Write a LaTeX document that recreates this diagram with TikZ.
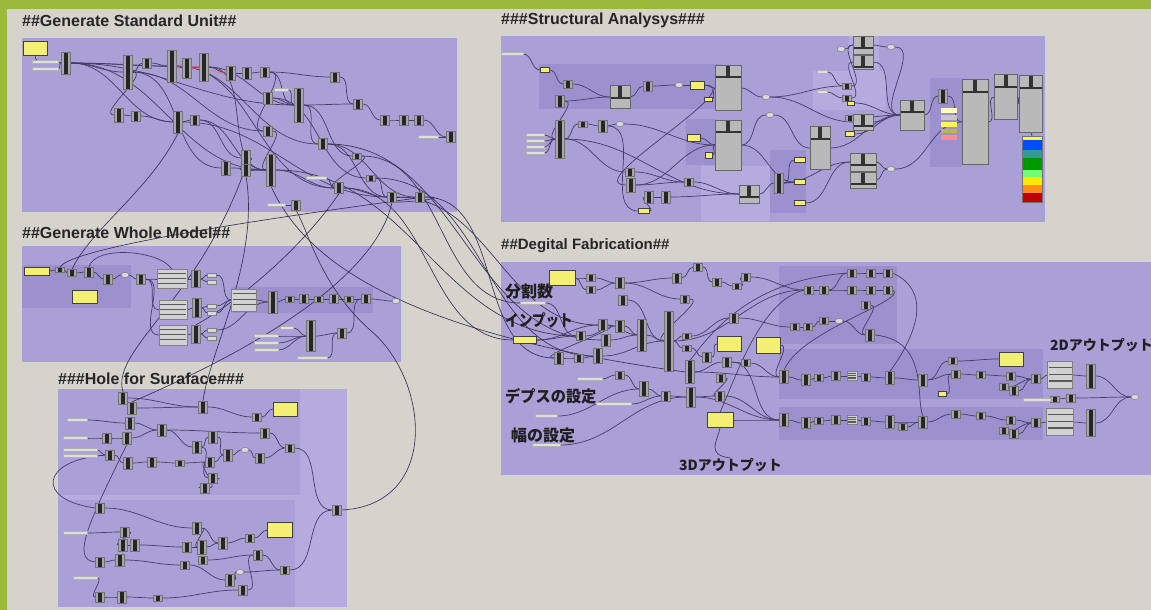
\documentclass[tikz,border=0pt]{standalone}
\usepackage{fontspec}
\setmainfont{Liberation Sans}
\newfontfamily\jpf{Noto Sans CJK JP}
\usetikzlibrary{shapes.geometric,calc}
\definecolor{bgc}{HTML}{D6D3CC}
\definecolor{grn}{HTML}{9CBA3C}
\definecolor{pur}{HTML}{AB9FD8}
\definecolor{purd}{HTML}{9D90CE}
\definecolor{purl}{HTML}{B6ABDF}
\definecolor{wirec}{HTML}{463C68}
\definecolor{yelc}{HTML}{F3EF72}
\definecolor{compg}{HTML}{A9A6AE}
\pgfdeclarelayer{bgl}\pgfdeclarelayer{wl}\pgfsetlayers{bgl,wl,main}
\begin{document}
\begin{tikzpicture}[x=1pt,y=-1pt,
 comp/.style={rectangle,draw=black!55,line width=0.3pt,fill=compg,minimum width=9pt,inner sep=0pt,
   path picture={\fill[black!85] ([xshift=-1.8pt]path picture bounding box.south) rectangle ([xshift=1.8pt]path picture bounding box.north);}},
 bigc/.style={rectangle,draw=black!60,line width=0.4pt,fill=gray!55,inner sep=0pt,
   path picture={\fill[black!80] ([xshift=-1.8pt]path picture bounding box.north) rectangle ([xshift=1.8pt,yshift=-11pt]path picture bounding box.north);
   \fill[black!80] ([yshift=-11pt]path picture bounding box.north west) rectangle ([yshift=-13pt]path picture bounding box.north east);}},
 lst/.style={rectangle,draw=black!50,line width=0.3pt,fill=gray!35,inner sep=0pt,
   path picture={\foreach \k in {0.22,0.47,0.72}{\draw[black!65,line width=1.2pt] ($(path picture bounding box.north west)!\k!(path picture bounding box.south west)+(1,0)$) -- ($(path picture bounding box.north east)!\k!(path picture bounding box.south east)+(-1,0)$);}}},
 yel/.style={rectangle,draw=black!75,line width=0.6pt,fill=yelc,inner sep=0pt},
 strip/.style={rectangle,draw=gray!60,line width=0.3pt,fill=gray!25,minimum height=3pt,inner sep=0pt},
 tinyb/.style={rectangle,draw=black!50,line width=0.3pt,fill=gray!30,minimum width=9pt,minimum height=4pt,inner sep=0pt},
 ov/.style={ellipse,draw=black!60,line width=0.3pt,fill=gray!30,minimum width=8pt,minimum height=5pt,inner sep=0pt},
 w/.style={draw=wirec,line width=0.7pt},
 cw/.style={draw=wirec!80!black,line width=0.65pt},
 ttl/.style={anchor=west,inner sep=0pt,text=black!85,font=\bfseries\fontsize{16}{18}\selectfont},
 jl/.style={anchor=west,inner sep=0pt,text=black!88,font=\jpf\bfseries\fontsize{16}{18}\selectfont}]
\useasboundingbox (0,0) rectangle (1151,610);
\begin{pgfonlayer}{bgl}
\fill[bgc] (0,0) rectangle (1151,610);
\fill[grn] (0,0) rectangle (1151,9);
\fill[grn] (0,0) rectangle (7,610);
% groups
\fill[pur] (22,38) rectangle (457,212);
\fill[pur] (501,36) rectangle (1045,222);
\fill[pur] (22,246) rectangle (401,362);
\fill[purl] (58,389) rectangle (347,607);
\fill[pur] (501,262) rectangle (1151,475);
% sub groups
\fill[purd] (539,64) rectangle (723,109);
\fill[purd] (686,119) rectangle (716,165);
\fill[purl] (701,166) rectangle (770,221);
\fill[purd] (770,150) rectangle (806,213);
\fill[purl] (813,71) rectangle (886,110);
\fill[purl] (849,36) rectangle (879,71);
\fill[purd] (930,78) rectangle (962,167);
\fill[purd] (22,265) rectangle (131,308);
\fill[purd] (231,287) rectangle (373,313);
\fill[pur] (58,389) rectangle (300,495);
\fill[pur] (58,500) rectangle (295,607);
\fill[purd] (779,266) rectangle (897,344);
\fill[purd] (779,349) rectangle (1043,399);
\fill[purd] (779,407) rectangle (1043,440);
\end{pgfonlayer}
% titles
\node[ttl] (t1) at (22,21) {\#\#Generate Standard Unit\#\#};
\node[ttl] (t2) at (501,20) {\#\#\#Structural Analysys\#\#\#};
\node[ttl] (t3) at (22,233) {\#\#Generate Whole Model\#\#};
\node[ttl] (t4) at (58,379) {\#\#\#Hole for Suraface\#\#\#};
\node[ttl,font=\bfseries\fontsize{15}{17}\selectfont] (t5) at (501,246) {\#\#Degital Fabrication\#\#};
% Japanese labels
\node[jl] (l1) at (505,291) {分割数};
\node[jl] (l2) at (505,320) {\scalebox{0.85}[1]{インプット}};
\node[jl] (l3) at (505,396) {\scalebox{0.95}[1]{デプスの設定}};
\node[jl] (l4) at (511,435) {幅の設定};
\node[jl,font=\jpf\bfseries\fontsize{14}{16}\selectfont] (l5) at (679,465) {3Dアウトプット};
\node[jl,font=\jpf\bfseries\fontsize{14}{16}\selectfont] (l6) at (1050,345) {2Dアウトプット};
% ---------- Generate Standard Unit
\node[yel,minimum width=24pt,minimum height=14pt] (uy) at (35,48) {};
\foreach \n/\x/\y/\ww in {us1/45/62/26,us2/45/69/26,us3/428/137/20,us4/276/205/18,us5/316/178/20,us6/281/90/14}
  \node[strip,minimum width=\ww pt] (\n) at (\x,\y) {};
\foreach \n/\x/\y/\h in {u1/66/63/22,u2/128/72/34,u3/147/63/10,u4/172/66/32,u5/187/68/20,u6/204/67/28,u7/231/73/14,u8/247/73/12,u9/265/72/10,u10/335/77/10,u11/299/105/34,u12/268/98/12,u13/358/104/10,u14/385/120/10,u15/404/120/10,u16/419/120/10,u17/451/137/11,u18/119/115/14,u19/136/116/10,u20/178/122/22,u21/195/120/10,u22/268/131/10,u23/323/144/11,u24/246/158/16,u25/226/168/14,u26/246/170/12,u27/271/170/32,u28/357/156/6,u29/339/188/11,u30/371/178/6,u31/392/197/10,u32/420/197/10,u33/296/205/10}
  \node[comp,minimum height=\h pt] (\n) at (\x,\y) {};
% ---------- Structural Analysys
\foreach \n/\x/\y/\h in {a1/568/84/8,a2/560/101/12,a3/648/86/10,a4/560/139/38,a5/583/124/6,a6/603/126/12,a7/630/172/8,a8/631/185/14,a9/649/197/12,a10/666/197/12,a11/689/182/8,a12/779/183/20,a13/847/86/6,a14/847/98/6,a15/850/118/6,a16/943/96/14}
  \node[comp,minimum height=\h pt] (\n) at (\x,\y) {};
\foreach \n/\x/\y/\ww/\hh in {b1/620/97/20/23,b2/728/88/26/45,b3/728/145/26/50,b4/749/194/20/18,b5/820/148/20/43,b6/863/162/26/18,b7/863/180/26/16,b8/863/122/20/16,b9/863/45/20/18,b10/863/62/20/14,b11/912/115/24/30,b12/975/122/26/85,b13/1006/97/23/45,b14/1031/104/23/57}
  \node[bigc,minimum width=\ww pt,minimum height=\hh pt] (\n) at (\x,\y) {};
\foreach \n/\x/\y/\ww/\hh in {ay1/545/70/9/5,ay2/697/85/14/8,ay3/708/99/8/4,ay4/694/138/13/7,ay5/709/155/7/6,ay6/644/211/11/5,ay7/800/160/11/5,ay8/800/182/11/5,ay9/800/203/11/5,ay10/851/103/7/4,ay11/850/134/9/5}
  \node[yel,line width=0.5pt,minimum width=\ww pt,minimum height=\hh pt] (\n) at (\x,\y) {};
\foreach \n/\x/\y in {ao1/679/85,ao2/620/124,ao3/891/47,ao4/891/169,ao5/766/97,ao6/770/115,ao7/841/49}
  \node[ov] (\n) at (\x,\y) {};
\foreach \n/\x/\y/\ww in {as1/512/54/22,as2/535/135/18,as3/535/141/18,as4/535/147/18,as5/535/153/18,as6/822/72/10,as7/822/92/10}
  \node[strip,minimum width=\ww pt] (\n) at (\x,\y) {};
% colour chips and legend
\fill[yellow!25] (941,108) rectangle (957,113);
\fill[gray!45] (941,115) rectangle (957,120);
\fill[yellow!65] (941,122) rectangle (957,127);
\fill[olive!60] (941,129) rectangle (957,133);
\fill[red!45] (941,135) rectangle (957,140);
\fill[yellow!80] (1022,136) rectangle (1042,140);
\fill[blue!70!cyan] (1022,140) rectangle (1042,150);
\fill[teal!80] (1022,150) rectangle (1042,158);
\fill[green!60!black] (1022,158) rectangle (1042,170);
\fill[green!55] (1022,170) rectangle (1042,177);
\fill[yellow!90!orange] (1022,177) rectangle (1042,185);
\fill[orange!90] (1022,185) rectangle (1042,193);
\fill[red!75!black] (1022,193) rectangle (1042,202);
\node[draw=black!55,line width=0.4pt,minimum width=20pt,minimum height=66pt,inner sep=0pt] (leg) at (1032,169) {};
% ---------- Generate Whole Model
\node[yel,minimum width=25pt,minimum height=8pt] (wy1) at (37,271) {};
\node[yel,minimum width=25pt,minimum height=13pt] (wy2) at (85,297) {};
\foreach \n/\x/\y/\h in {w1/60/270/5,w2/72/273/7,w3/89/272/10,w4/108/279/10,w6/141/279/10,wc1/196/279/17,wc2/197/308/19,wc3/196/334/18,wc4/273/302/22,w7/290/299/6,w8/304/299/9,w9/319/299/6,w10/334/299/9,w11/349/299/6,w12/366/299/9,wc5/311/336/31,wc6/342/333/10}
  \node[comp,minimum height=\h pt] (\n) at (\x,\y) {};
\foreach \n/\x/\y in {w5/125/275,w13/396/301}
  \node[ov] (\n) at (\x,\y) {};
\foreach \n/\x/\y/\ww/\hh in {wl1/172/279/30/19,wl2/173/310/28/19,wl3/173/335/28/20,wl4/244/300/25/22}
  \node[lst,minimum width=\ww pt,minimum height=\hh pt] (\n) at (\x,\y) {};
\foreach \n/\x/\y in {wo1/212/275,wo2/212/282,wo3/212/306,wo4/212/313,wo5/212/330,wo6/212/338}
  \node[tinyb] (\n) at (\x,\y) {};
\foreach \n/\x/\y/\ww in {ws1/266/336/24,ws2/266/343/24,ws3/266/350/24,ws4/287/328/13,ws5/312/358/30}
  \node[strip,minimum width=\ww pt] (\n) at (\x,\y) {};
% ---------- Hole for Suraface
\node[yel,minimum width=24pt,minimum height=14pt] (hy1) at (285,409) {};
\node[yel,minimum width=25pt,minimum height=15pt] (hy2) at (280,530) {};
\foreach \n/\x/\y/\h in {h1/123/398/12,h2/132/408/12,h3/130/423/12,h4/127/438/12,h5/107/438/10,h6/110/455/10,h7/128/463/12,h8/152/462/10,h9/162/430/12,h10/180/463/6,h11/203/407/12,h12/197/447/12,h13/213/437/12,h14/210/462/10,h15/228/455/12,h16/213/478/10,h17/205/488/10,h18/257/417/8,h19/265/433/10,h20/260/458/10,h21/290/448/8,k1/100/508/10,k2/125/532/10,k3/123/545/12,k4/135/545/12,k5/100/562/10,k6/120/560/12,k7/197/528/12,k8/187/547/10,k9/202/547/14,k10/223/543/12,k11/203/560/8,k12/185/565/8,k13/250/538/8,k14/258/555/10,k15/285/570/8,k16/230/580/12,k17/243/590/10,k18/100/597/10,k19/122/597/12,k20/158/598/6,hout/337/510/10}
  \node[comp,minimum height=\h pt] (\n) at (\x,\y) {};
\foreach \n/\x/\y in {h22/245/450,k21/240/572}
  \node[ov] (\n) at (\x,\y) {};
\foreach \n/\x/\y/\ww in {hs1/77/420/20,hs2/75/438/24,hs3/80/450/34,hs4/80/456/34,ks1/75/533/24,ks2/85/578/24}
  \node[strip,minimum width=\ww pt] (\n) at (\x,\y) {};
% ---------- Degital Fabrication
\foreach \n/\x/\y/\ww/\hh in {dy1/562/278/26/15,dy2/525/340/23/7,dy3/729/344/24/15,dy4/768/345/24/16,dy5/720/420/26/15,dy6/1011/359/24/14,dy7/942/394/8/5}
  \node[yel,minimum width=\ww pt,minimum height=\hh pt] (\n) at (\x,\y) {};
\foreach \n/\x/\y/\h in {d1/591/278/7,d2/591/290/7,d3/620/283/11,d4/623/300/10,d5/677/278/10,d6/698/267/8,d7/717/282/8,d8/737/286/6,d9/746/277/8,d10/685/299/8,d11/734/318/10,d12/581/336/9,d13/603/325/11,d14/606/340/12,d15/620/326/12,d16/642/335/32,d17/669/341/60,d18/687/336/6,d19/687/348/6,d20/559/358/12,d21/579/358/8,d22/598/356/15,d23/620/375/8,d24/644/389/15,d25/666/396/10,d26/690/372/23,d27/691/397/20,d28/707/357/10,d29/727/362/10,d30/721/378/8,d31/746/363/7,d32/720/396/10,d34/809/290/8,d35/824/290/8,d36/852/273/8,d37/871/273/8,d38/888/273/8,d39/852/290/8,d40/871/290/8,d41/888/290/8,d42/866/305/8,d43/795/327/7,d44/808/327/7,d45/824/321/7,d47/870/335/12,r1/784/377/13,r2/806/380/11,r3/819/378/7,r4/836/376/9,r6/866/377/8,r7/890/378/13,r8/923/380/12,r9/956/374/8,r10/981/375/7,r11/1011/376/8,r12/1036/379/9,rr1/953/361/7,rr2/1004/387/7,rr3/1014/391/9,q1/784/420/13,q2/806/423/11,q3/819/421/7,q4/836/420/9,q6/866/421/8,q7/890/422/13,q8/903/427/7,q9/923/422/12,q10/956/414/8,q11/981/416/7,q12/1011/420/8,q13/1004/431/7,q14/1014/434/9,q15/1036/423/9,L1c/1091/376/24,L2c/1091/423/27,k1d/1055/399/6,k2d/1071/398/8}
  \node[comp,minimum height=\h pt] (\n) at (\x,\y) {};
\foreach \n/\x/\y/\ww/\hh in {L1/1060/375/25/27,L2/1060/422/27/27,r5/852/376/10/9,q5/852/420/10/9}
  \node[lst,minimum width=\ww pt,minimum height=\hh pt] (\n) at (\x,\y) {};
\foreach \n/\x/\y in {d46/839/321,dout/1135/397}
  \node[ov] (\n) at (\x,\y) {};
\foreach \n/\x/\y/\ww in {ds1/533/303/25,ds2/590/379/25,ds3/546/416/22,ds4/546/445/28,ds5/614/404/35,ds6/1037/400/27}
  \node[strip,minimum width=\ww pt] (\n) at (\x,\y) {};
% ================= wires
\begin{pgfonlayer}{wl}
% GSU
\foreach \fa/\fb in {us1/u1,us2/u1,u1/u2,u1/u4,u1/u6,u1/u11,u1/u20,u1/u27,u2/u3,u3/u4,u4/u5,u5/u6,u6/u7,u7/u8,u8/u9,u9/u10,u10/u13,u13/u14,u14/u15,u15/u16,u16/u17,us3/u17,u18/u19,u19/u20,u20/u21,u21/u24,u21/u27,u12/u11,u11/u13,u11/u23,u22/u27,u24/u26,u25/u27,u26/u27,u27/u29,u29/u31,u31/u32,u30/u31,u28/u29,u23/u31,u6/u11,u9/u11,u2/u22,u4/u29,u20/u31,us4/u33,us5/u29,u2/u18,u2/u25,u4/u23,u6/u27,u11/u28,u9/u22,us6/u11,u12/u30,u23/u32}
  \draw[w] (\fa.east) to[out=0,in=180] (\fb.west);
\draw[red!55,line width=0.6pt] (u4.east) to[out=0,in=180] (u6.west);
\draw[red!55,line width=0.6pt] (u5.east) to[out=0,in=180] (u7.west);
\draw[w] (uy.south) to[out=-90,in=180] (u1.west);
\draw[w] (u32.east) to[out=0,in=0,looseness=2] (u31.south);
% Structural
\foreach \fa/\fb in {as1/ay1,ay1/a1,a1/b1,a2/b1,b1/a3,a3/ao1,ao1/ay2,ay2/b2,ay3/b2,as2/a4,as3/a4,as4/a4,as5/a4,a4/a5,a5/a6,a6/ao2,ao2/b3,ay4/b3,ay5/b3,b2/ao5,ao5/a13,ao5/b8,b3/ao6,ao6/b5,a4/a7,a7/a11,a8/a11,a11/b4,a9/a10,a10/b4,ay6/a9,b4/a12,a12/ay7,a12/ay8,ay9/b6,a12/b6,b5/b11,b6/ao4,b7/ao4,ao4/b12,b8/b11,as6/a13,as7/a14,a13/b9,a14/b10,b9/ao3,ao3/b11,b11/a16,a16/b12,b12/b13,b13/b14,a15/b11,ay10/b11,ay11/b11,ay2/a8,a4/b4,a6/ay6,a8/b3,a2/a4,b3/ay8,b10/b11,ao7/b9}
  \draw[w] (\fa.east) to[out=0,in=180] (\fb.west);
\draw[w] (b14.south) to[out=-90,in=90] (leg.north);
% Whole Model
\foreach \fa/\fb in {wy1/w1,w1/w2,w2/w3,w3/w4,w4/w5,w5/w6,w6/wl1,wl1/wc1,wl2/wc2,wl3/wc3,wc1/wo1,wc1/wo2,wc2/wo3,wc2/wo4,wc3/wo5,wc3/wo6,wo3/wl4,wo4/wl4,wo1/wl4,wl4/wc4,wc4/w7,w7/w8,w8/w9,w9/w10,w10/w11,w11/w12,w12/w13,ws1/wc5,ws2/wc5,ws3/wc5,ws4/wc5,ws5/wc6,wc5/wc6,w6/wl2,w6/wl3,wo5/wc4,wc6/w12}
  \draw[w] (\fa.east) to[out=0,in=180] (\fb.west);
\draw[w] (w3.north) .. controls (95,245) and (160,250) .. (wl1.north);
% Hole
\foreach \fa/\fb in {hs1/h3,hs2/h5,hs3/h6,hs4/h6,h5/h4,h6/h7,h7/h8,h8/h10,h10/h14,h14/h15,h15/h22,h22/h20,h4/h9,h9/h12,h12/h13,h3/h9,h1/h11,h11/h18,h18/hy1,h19/h21,h20/h21,h13/h15,h16/h17,h2/h11,h17/h14,h21/hout,k15/hout,ks1/k2,k2/k3,k3/k4,k4/k8,k8/k9,k9/k10,k10/k13,k13/hy2,k14/k15,k11/k14,k1/k7,k7/k10,k5/k6,k6/k12,k12/k16,k16/k21,k21/k15,k18/k19,k19/k20,k20/k17,k17/k14,ks2/k18,h9/h19,h12/h16,k7/k9}
  \draw[w] (\fa.east) to[out=0,in=180] (\fb.west);
\draw[w] (h6.west) .. controls (40,460) and (35,500) .. (k1.west);
\draw[w] (h4.south) .. controls (90,520) and (70,560) .. (k5.west);
% Degital Fabrication
\foreach \fa/\fb in {dy1/d1,dy1/d2,d1/d3,d2/d3,ds1/d12,dy2/d12,dy2/d13,d12/d15,d13/d16,d14/d16,d15/d16,d16/d17,d17/d18,d17/d19,d3/d5,d4/d17,d5/d6,d6/d7,d7/d8,d8/d9,d10/d17,d20/d21,d21/d22,d22/d17,ds2/d23,d23/d24,d24/d25,d25/d27,d26/d29,d27/d32,d28/dy3,d29/d31,d30/d32,ds3/d24,ds4/d27,ds5/d25,d19/d28,d18/d11,d11/d43,d17/d34,d34/d35,d35/d36,d36/d37,d37/d38,d39/d40,d40/d41,d35/d39,d43/d44,d44/d45,d45/d46,d46/d47,d42/d47,d26/r1,d32/q1,dy5/q1,d31/r1,d29/q1,r1/r2,r2/r3,r3/r4,r4/r5,r5/r6,r6/r7,r7/r8,r8/r9,r8/rr1,rr1/dy6,r9/r10,r10/r11,r11/r12,rr2/r12,rr3/r12,dy7/r9,r12/L1,L1/L1c,q1/q2,q2/q3,q3/q4,q4/q5,q5/q6,q6/q7,q7/q9,q8/q9,q9/q10,q10/q11,q11/q12,q13/q15,q14/q15,q12/q15,q15/L2,L2/L2c,ds6/k1d,k1d/k2d,L1c/dout,L2c/dout,k2d/dout,dy4/r1,d9/d34,d27/q1,d13/d20,d3/d10}
  \draw[w] (\fa.east) to[out=0,in=180] (\fb.west);
\draw[w] (d38.east) .. controls (930,290) and (920,330) .. (r7.north);
\draw[w] (d41.east) .. controls (910,300) and (800,330) .. (r1.north);
\draw[w] (d47.east) .. controls (930,340) and (915,400) .. (q9.north);
\draw[w] (dy5.north) .. controls (735,380) and (760,300) .. (d34.west);
\draw[w] (d26.north) .. controls (720,320) and (760,280) .. (d36.west);
\draw[w] (dy5.south) .. controls (718,440) and (705,455) .. (l5.north);
% ---------- cross-group wires
\foreach \fa/\fb in {u27/d12,u29/dy2,u31/d13,u23/d14,u32/d20,u28/ds1,u30/d22}
  \draw[cw] (\fa.east) to[out=0,in=180] (\fb.west);
\draw[cw] (u24.south) .. controls (200,300) and (110,350) .. (h1.north);
\draw[cw] (u26.south) .. controls (260,260) and (210,350) .. (h11.north);
\draw[cw] (u20.south) .. controls (150,190) and (90,230) .. (w2.north);
\draw[cw] (w1.north) .. controls (70,245) and (330,210) .. (u32.east);
\draw[cw] (wc3.north) .. controls (240,300) and (300,250) .. (u29.south);
\draw[cw] (hout.east) .. controls (440,505) and (430,380) .. (370,330) .. controls (320,285) and (310,235) .. (u33.south);
\draw[cw] (u31.south) .. controls (380,260) and (300,330) .. (h2.north);
\draw[cw] (u27.south) .. controls (300,250) and (380,330) .. (d26.west);
\end{pgfonlayer}
\end{tikzpicture}
\end{document}
